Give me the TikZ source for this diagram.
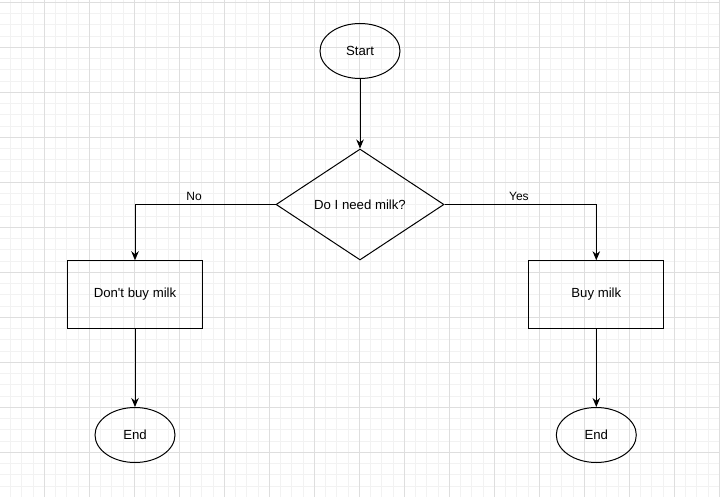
\documentclass[tikz,border=0pt]{standalone}
\usepackage{fontspec}
\setmainfont{Liberation Sans}
\usetikzlibrary{shapes.geometric,arrows.meta}
\definecolor{minorgrid}{HTML}{F2F2F2}
\definecolor{majorgrid}{HTML}{DEDEDE}
\begin{document}
\begin{tikzpicture}[x=1pt,y=-1pt,
  every node/.style={font=\fontsize{13.2}{15}\selectfont, text=black},
  term/.style={ellipse, draw, line width=1pt, minimum width=80pt, minimum height=55pt, inner sep=0pt},
  proc/.style={rectangle, draw, line width=1pt, minimum width=135pt, minimum height=67.5pt, inner sep=0pt},
  dec/.style={diamond, draw, line width=1pt, minimum width=168pt, minimum height=111pt, inner sep=0pt},
  conn/.style={draw, line width=1pt, -{Stealth[length=9pt,width=7.5pt]}},
  lbl/.style={inner sep=1pt, font=\fontsize{12}{14}\selectfont},
  minorline/.style={draw=minorgrid, line width=0.9pt},
  majorline/.style={draw=majorgrid, line width=0.9pt}]
\useasboundingbox (0,0) rectangle (720,497);
\fill[white] (0,0) rectangle (720,497);
% grid
\foreach \k in {0,...,64} {
  \pgfmathsetmacro{\gx}{-0.7+11.25*\k}
  \draw[minorline] (\gx,0) -- (\gx,497);
}
\foreach \k in {0,...,44} {
  \pgfmathsetmacro{\gy}{2.3+11.25*\k}
  \draw[minorline] (0,\gy) -- (720,\gy);
}
\foreach \k in {0,...,16} {
  \pgfmathsetmacro{\gx}{-0.7+45*\k}
  \draw[majorline] (\gx,0) -- (\gx,497);
}
\foreach \k in {0,...,11} {
  \pgfmathsetmacro{\gy}{2.3+45*\k}
  \draw[majorline] (0,\gy) -- (720,\gy);
}
% nodes
\node[term] (start) at (360,51) {Start};
\node[dec] (q) at (360,204.5) {Do I need milk?};
\node[proc] (no) at (135,294.5) {Don\textquotesingle t buy milk};
\node[proc] (yes) at (596.3,294.5) {Buy milk};
\node[term] (endl) at (135,435) {End};
\node[term] (endr) at (596.3,435) {End};
% connectors
\draw[conn] (start) -- (q);
\draw[conn] (q.west) -| node[lbl, pos=0.29, above=2pt] {No} (no);
\draw[conn] (q.east) -| node[lbl, pos=0.245, above=2pt] {Yes} (yes);
\draw[conn] (no) -- (endl);
\draw[conn] (yes) -- (endr);
\end{tikzpicture}
\end{document}
